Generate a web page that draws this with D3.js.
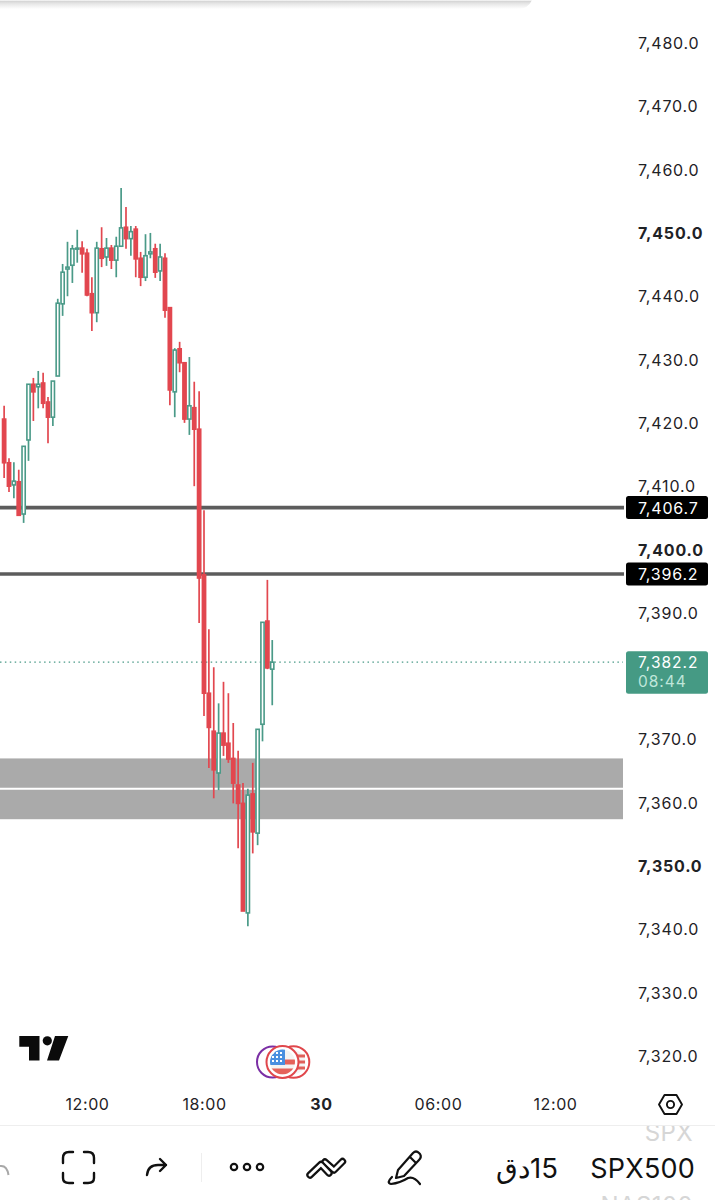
<!DOCTYPE html>
<html><head><meta charset="utf-8">
<script src="https://cdn.jsdelivr.net/npm/d3@7"></script>
<style>html,body{margin:0;padding:0;background:#fff}svg{display:block}text{font-family:Inter,"Liberation Sans",sans-serif}</style>
</head><body><div id="chart"></div>
<script>
const firstBar = new Date(2026, 3, 29, 7, 45);
const opens  = [7420.6,7413.7,7410.2,7410.7,7405.6,7417.3,7426.1,7425.7,7426.3,7423.3,7420.9,7427.4,7438.8,7444.3,7444.9,7447.5,7447.6,7446.8,7440.4,7437.4,7447.5,7446.2,7447.6,7445.7,7447.9,7450.9,7449.1,7450.6,7446.0,7443.0,7446.7,7447.5,7444.0,7446.0,7438.2,7424.9,7431.7,7429.5,7420.6,7422.4,7419.0,7396.0,7377.3,7371.3,7364.7,7371.0,7369.4,7367.0,7362.8,7359.9,7342.6,7361.4,7355.2,7372.4,7388.7,7381.1];
const highs  = [7422.7,7414.4,7413.8,7412.6,7416.3,7426.1,7427.1,7428.2,7427.9,7424.1,7426.6,7439.6,7445.1,7448.6,7448.1,7450.5,7448.7,7447.5,7443.0,7448.6,7450.9,7449.2,7448.1,7449.4,7457.1,7454.1,7451.1,7451.1,7447.0,7449.8,7450.0,7448.3,7448.3,7446.8,7438.2,7431.8,7432.8,7429.5,7430.4,7426.5,7425.0,7406.2,7387.4,7381.4,7375.7,7379.1,7377.3,7372.6,7368.2,7363.1,7362.2,7366.3,7371.6,7388.5,7395.2,7385.7];
const lows   = [7411.3,7409.1,7408.1,7405.4,7404.2,7414.0,7420.3,7422.3,7422.3,7416.8,7419.5,7427.4,7436.9,7440.0,7442.1,7445.3,7443.7,7440.0,7434.5,7435.9,7444.6,7444.8,7444.3,7443.0,7447.9,7447.5,7446.4,7443.0,7441.6,7442.4,7446.0,7442.9,7442.4,7436.6,7422.8,7420.9,7428.0,7420.0,7418.1,7410.0,7388.4,7373.7,7365.5,7360.7,7362.0,7367.4,7366.3,7359.9,7352.8,7342.9,7340.5,7352.0,7353.3,7369.7,7381.1,7375.4];
const closes = [7413.7,7410.0,7410.8,7405.4,7416.3,7426.1,7424.9,7426.1,7423.1,7420.9,7426.6,7438.9,7443.8,7444.6,7447.5,7447.6,7446.7,7440.2,7437.4,7447.6,7446.0,7447.6,7445.7,7447.9,7450.8,7449.1,7450.2,7445.9,7443.0,7446.4,7447.0,7443.8,7446.2,7437.8,7425.2,7431.5,7429.5,7420.6,7422.7,7419.0,7395.5,7377.3,7371.9,7365.2,7371.0,7369.1,7366.9,7363.1,7359.9,7342.9,7361.2,7355.4,7371.6,7388.5,7381.3,7382.2];
const priceTicks = [7320,7330,7340,7350,7360,7370,7380,7390,7400,7410,7420,7430,7440,7450,7460,7470,7480];
const boldPrices = [7350,7400,7450];
const timeTicks = [new Date(2026,3,29,12),new Date(2026,3,29,18),new Date(2026,3,30,0),new Date(2026,3,30,6),new Date(2026,3,30,12)];
const levels = [7406.7,7396.2];
const lastPrice = 7382.2;
const countdown = "08:44";
const zoneTop = 7367.0, zoneMid = 7362.2, zoneBottom = 7357.4;

const W=715,H=1200,plotR=623;
const green="#4a9a88",red="#e2474f";
const svg=d3.select("#chart").append("svg").attr("width",W).attr("height",H).attr("viewBox",`0 0 ${W} ${H}`);
const y=d3.scaleLinear().domain([7320,7480]).range([1056,43]);
const x=d3.scaleTime().domain([new Date(2026,3,29,12),new Date(2026,3,29,18)]).range([87,204]);
const fmt=d3.format(",.1f");
const bars=opens.map((o,i)=>({t:new Date(+firstBar+i*9e5),o,h:highs[i],l:lows[i],c:closes[i]}));
const defs=svg.append("defs");
const grad=defs.append("linearGradient").attr("id","sh").attr("x1",0).attr("x2",0).attr("y1",0).attr("y2",1);
[[0,"#ffffff"],[0.15,"#d6d6d6"],[0.4,"#e6e6e6"],[1,"#ffffff"]].forEach(s=>grad.append("stop").attr("offset",s[0]).attr("stop-color",s[1]));
defs.append("clipPath").attr("id","tb").append("rect").attr("x",0).attr("y",1126).attr("width",W).attr("height",74);

// top sheet edge
svg.append("path").attr("d","M0,0H532Q528,9 518,9H0Z").attr("fill","url(#sh)");

// zone
svg.append("rect").attr("x",0).attr("width",plotR).attr("y",y(zoneTop)).attr("height",y(zoneBottom)-y(zoneTop)).attr("fill","#aaaaaa");
svg.append("line").attr("x1",0).attr("x2",plotR).attr("y1",y(zoneMid)).attr("y2",y(zoneMid)).attr("stroke","#fff").attr("stroke-width",2);
// levels
svg.selectAll(".lvl").data(levels).join("line").attr("class","lvl").attr("x1",0).attr("x2",plotR+1).attr("y1",d=>y(d)+0.5).attr("y2",d=>y(d)+0.5).attr("stroke","#5c5c5c").attr("stroke-width",3.6);
// last price dotted
svg.append("line").attr("x1",0).attr("x2",plotR).attr("y1",y(lastPrice)).attr("y2",y(lastPrice)).attr("stroke",green).attr("stroke-width",1.3).attr("stroke-dasharray","1.5 3.4");

// candles
const g=svg.append("g").selectAll("g").data(bars).join("g");
g.append("line").attr("x1",d=>x(d.t)).attr("x2",d=>x(d.t)).attr("y1",d=>y(d.h)).attr("y2",d=>y(d.l)).attr("stroke",d=>d.c>=d.o?green:red).attr("stroke-width",1.7);
g.append("rect").attr("x",d=>x(d.t)-1.6).attr("width",3.2)
 .attr("y",d=>y(Math.max(d.o,d.c))).attr("height",d=>Math.max(1,Math.abs(y(d.o)-y(d.c))))
 .attr("fill",d=>d.c>=d.o?"#fff":red).attr("stroke",d=>d.c>=d.o?green:red).attr("stroke-width",1.6);

// price axis
const yAxis=d3.axisRight(y).tickValues(priceTicks).tickSize(0).tickPadding(0).tickFormat(fmt);
const ya=svg.append("g").attr("transform","translate(638,0.4)").call(yAxis);
ya.select(".domain").remove();
ya.selectAll("text").attr("font-size",16).attr("fill","#1f2226").attr("letter-spacing",0.8)
  .attr("font-weight",d=>boldPrices.includes(d)?700:400);

// level labels
const lab=svg.selectAll(".ll").data(levels).join("g").attr("class","ll").attr("transform",d=>`translate(0,${y(d)})`);
lab.append("rect").attr("x",626).attr("y",-11).attr("width",82).attr("height",23).attr("rx",2.5).attr("fill","#000");
lab.append("text").attr("x",638).attr("y",6.5).attr("fill","#fff").attr("font-size",16).attr("letter-spacing",0.8).text(d=>fmt(d));
// last price label
const lp=svg.append("g").attr("transform",`translate(0,${y(lastPrice)})`);
lp.append("rect").attr("x",626).attr("y",-11).attr("width",82).attr("height",42.5).attr("rx",2.5).attr("fill","#459a84");
lp.append("text").attr("x",638).attr("y",5.5).attr("fill","#fff").attr("font-size",15.5).attr("letter-spacing",1).text(fmt(lastPrice));
lp.append("text").attr("x",638).attr("y",24.5).attr("fill","#bfe6da").attr("font-size",15.5).attr("letter-spacing",1).text(countdown);

// time axis
const xAxis=d3.axisBottom(x).tickValues(timeTicks).tickSize(0).tickPadding(0).tickFormat(d=>d.getHours()===0?String(d.getDate()):d3.timeFormat("%H:%M")(d));
const xa=svg.append("g").attr("transform","translate(0,1099)").call(xAxis);
xa.select(".domain").remove();
xa.selectAll("text").attr("font-size",16).attr("fill","#1f2226").attr("letter-spacing",0.6).attr("font-weight",d=>d.getHours()===0?700:400);

// TV logo
svg.append("path").attr("fill","#0b0b0b").attr("d","M19.3,1036H39.5V1060.5H29V1046.7H19.3ZM55,1036H68.3L59,1060.5H47Z");
svg.append("circle").attr("cx",47.3).attr("cy",1040.8).attr("r",4.6).attr("fill","#0b0b0b");

// flag icons
const f=svg.append("g");
f.append("circle").attr("cx",272.5).attr("cy",1062).attr("r",15.5).attr("fill","#fff").attr("stroke","#7b2fa5").attr("stroke-width",2);
f.append("circle").attr("cx",293.5).attr("cy",1062).attr("r",15.8).attr("fill","#fff").attr("stroke","#e0474c").attr("stroke-width",2);
f.append("circle").attr("cx",293.5).attr("cy",1062).attr("r",12).attr("fill","#f4f4f4");
[[1056,3],[1062,3],[1068,3]].forEach(s=>f.append("rect").attr("x",293).attr("y",s[0]-1.5).attr("width",12).attr("height",s[1]).attr("fill","#e0605a"));
f.append("circle").attr("cx",282.5).attr("cy",1062).attr("r",16).attr("fill","#fff").attr("stroke","#e0474c").attr("stroke-width",2);
defs.append("clipPath").attr("id","fc").append("circle").attr("cx",282.5).attr("cy",1062).attr("r",12.5);
const fl=f.append("g").attr("clip-path","url(#fc)");
fl.append("rect").attr("x",268).attr("y",1048).attr("width",30).attr("height",28).attr("fill","#f5f3f2");
fl.append("rect").attr("x",283).attr("y",1059.5).attr("width",16).attr("height",5).attr("fill","#e5625a");
fl.append("rect").attr("x",268).attr("y",1068.5).attr("width",30).attr("height",6).attr("fill","#e5625a");
fl.append("rect").attr("x",268).attr("y",1048).attr("width",17).attr("height",17).attr("fill","#4a8fe0");
d3.cross([272,276,280],[1052,1056,1060]).forEach(p=>fl.append("rect").attr("x",p[0]).attr("y",p[1]).attr("width",2).attr("height",2).attr("fill","#fff"));

// separator + toolbar
svg.append("line").attr("x1",0).attr("x2",W).attr("y1",1125.5).attr("y2",1125.5).attr("stroke","#eeeeee");
const ic="#111";
const st=(d,w=2.4)=>svg.append("path").attr("d",d).attr("fill","none").attr("stroke",ic).attr("stroke-width",w).attr("stroke-linecap","round").attr("stroke-linejoin","round");
// settings hex
st("M659,1104.5L664.5,1095H676.5L682,1104.5L676.5,1114H664.5Z",1.9);
svg.append("circle").attr("cx",670.5).attr("cy",1104.5).attr("r",3.6).attr("fill","none").attr("stroke",ic).attr("stroke-width",1.9);
// left arc
svg.append("path").attr("d","M0,1166Q7,1165 8.5,1175").attr("fill","none").attr("stroke","#a8a8a8").attr("stroke-width",2);
// fullscreen
st("M63,1163V1158Q63,1152 69,1152H73M84,1152H88Q94,1152 94,1158V1163M94,1173V1178Q94,1183 88,1183H84M73,1183H69Q63,1183 63,1178V1173");
// redo
st("M147,1175Q148,1165 158,1165H166M160,1159L166,1165L160,1171");
svg.append("line").attr("x1",201.5).attr("x2",201.5).attr("y1",1153).attr("y2",1182).attr("stroke","#eeeeee");
// dots
[234,247,260].forEach(cx=>svg.append("circle").attr("cx",cx).attr("cy",1167).attr("r",3.2).attr("fill","none").attr("stroke",ic).attr("stroke-width",2.2));
// trend chevrons (outlined)
["M325,1162L334,1170L342.5,1161.5","M310,1175L321,1164.5L329,1173"].forEach(d=>{
  st(d,7.4);
  svg.append("path").attr("d",d).attr("fill","none").attr("stroke","#fff").attr("stroke-width",3).attr("stroke-linecap","round").attr("stroke-linejoin","round");
});
// pen
st("M398,1170L413,1153Q416,1150 419,1153L420,1154Q422,1157 419,1160L404,1176L396,1178ZM410,1157L416,1163",2.2);
st("M392,1177Q386,1183 391,1184Q400,1183 408,1178Q414,1176 420,1184",2.2);

// interval + symbol
svg.append("text").attr("x",558).attr("y",1178).attr("text-anchor","start").attr("direction","rtl").attr("font-size",27.5).attr("fill","#111").attr("font-family","'Noto Sans','DejaVu Sans',sans-serif").text("15دق");
svg.append("text").attr("x",695).attr("y",1178).attr("text-anchor","end").attr("font-size",27).attr("letter-spacing",0.2).attr("fill","#111").text("SPX500");
const tb=svg.append("g").attr("clip-path","url(#tb)");
tb.append("text").attr("x",693).attr("y",1141).attr("text-anchor","end").attr("font-size",24).attr("letter-spacing",0.4).attr("fill","#d6d6d6").text("SPX");
tb.append("text").attr("x",693).attr("y",1214).attr("text-anchor","end").attr("font-size",24).attr("letter-spacing",0.4).attr("fill","#d6d6d6").text("NAS100");
</script></body></html>
